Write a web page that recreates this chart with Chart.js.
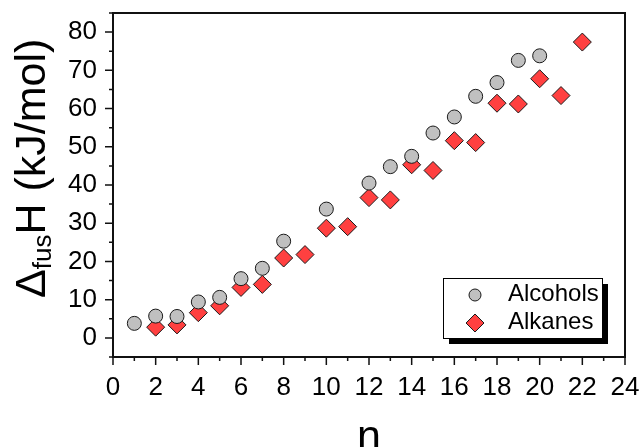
<!DOCTYPE html>
<html>
<head>
<meta charset="utf-8">
<script src="https://cdn.jsdelivr.net/npm/chart.js@4/dist/chart.umd.min.js"></script>
<style>
    html, body { margin: 0; padding: 0; background: #fff; }
</style>
</head>
<body>
<canvas id="fusionChart" width="643" height="447"></canvas>
<script>
var alcoholN = [1, 2, 3, 4, 5, 6, 7, 8, 10, 12, 13, 14, 15, 16, 17, 18, 19, 20];
var alcoholH = [3.8, 5.7, 5.6, 9.4, 10.6, 15.5, 18.2, 25.3, 33.7, 40.5, 44.8, 47.5, 53.6, 57.8, 63.2, 66.8, 72.6, 73.8];
var alkaneN = [2, 3, 4, 5, 6, 7, 8, 9, 10, 11, 12, 13, 14, 15, 16, 17, 18, 19, 20, 21, 22];
var alkaneH = [2.8, 3.4, 6.6, 8.4, 13.2, 14.0, 20.9, 21.8, 28.7, 29.1, 36.7, 36.1, 45.3, 43.8, 51.6, 51.1, 61.4, 61.2, 67.8, 63.4, 77.4];
var xTicks = [0, 2, 4, 6, 8, 10, 12, 14, 16, 18, 20, 22, 24];
var yTicks = [0, 10, 20, 30, 40, 50, 60, 70, 80];
var seriesNames = ['Alcohols', 'Alkanes'];

(function () {
    var FONT = '"Liberation Sans", Arial, sans-serif';

    function toPoints(xs, ys) {
        return xs.map(function (x, i) { return { x: x, y: ys[i] }; });
    }

    function marker(ctx, style, x, y, r) {
        ctx.beginPath();
        if (style === 'rectRot') {
            ctx.moveTo(x - r, y);
            ctx.lineTo(x, y - r);
            ctx.lineTo(x + r, y);
            ctx.lineTo(x, y + r);
            ctx.closePath();
        } else {
            ctx.arc(x, y, r, 0, Math.PI * 2);
        }
        ctx.fill();
        ctx.stroke();
    }

    // the scales get a fixed size, no extra label padding
    function fixSize(w, h) {
        return function (s) {
            if (w) { s.width = w; }
            if (h) { s.height = h; }
            s.paddingTop = 0;
            s.paddingBottom = 0;
            s.paddingLeft = 0;
            s.paddingRight = 0;
        };
    }

    // frame, minor/major tick marks and the rotated y title with subscript
    var framePlugin = {
        id: 'frame',
        afterDraw: function (chart) {
            var ctx = chart.ctx;
            var a = chart.chartArea;
            var xs = chart.scales.x, ys = chart.scales.y;
            ctx.save();
            ctx.strokeStyle = '#111';
            ctx.lineWidth = 2;
            ctx.strokeRect(a.left, a.top, a.right - a.left, a.bottom - a.top);

            ctx.lineWidth = 1.5;
            ctx.beginPath();
            for (var n = 0; n <= 24; n++) {
                var px = xs.getPixelForValue(n);
                var len = n % 2 === 0 ? 8 : 4;
                ctx.moveTo(px, a.bottom);
                ctx.lineTo(px, a.bottom + len);
            }
            for (var v = -5; v <= 85; v += 5) {
                var py = ys.getPixelForValue(v);
                var l2 = v % 10 === 0 ? 8 : 4;
                ctx.moveTo(a.left, py);
                ctx.lineTo(a.left - l2, py);
            }
            ctx.stroke();

            // y axis title: Δ_fus H (kJ/mol)
            ctx.translate(45, 298);
            ctx.rotate(-Math.PI / 2);
            ctx.fillStyle = '#000';
            ctx.textBaseline = 'alphabetic';
            ctx.textAlign = 'left';
            ctx.font = '43px ' + FONT;
            var pos = 0;
            ctx.fillText('\u0394', pos, 0);
            pos += ctx.measureText('\u0394').width;
            ctx.font = '26px ' + FONT;
            ctx.fillText('fus', pos, 6);
            pos += ctx.measureText('fus').width;
            ctx.font = '43px ' + FONT;
            ctx.fillText('H (kJ/mol)', pos, 0);
            ctx.restore();
        }
    };

    // boxed legend with drop shadow inside the plot
    var legendPlugin = {
        id: 'boxLegend',
        afterDraw: function (chart) {
            var ctx = chart.ctx;
            var bx = 443, by = 278, bw = 159, bh = 60;
            ctx.save();
            ctx.fillStyle = '#000';
            ctx.fillRect(bx + 6, by + 6, bw, bh);
            ctx.fillStyle = '#fff';
            ctx.fillRect(bx, by, bw, bh);
            ctx.strokeStyle = '#000';
            ctx.lineWidth = 1;
            ctx.strokeRect(bx + 0.5, by + 0.5, bw, bh);

            var rows = [295, 323];
            var sizes = [6, 9];
            chart.data.datasets.forEach(function (ds, i) {
                ctx.fillStyle = ds.backgroundColor;
                ctx.strokeStyle = ds.borderColor;
                ctx.lineWidth = 1;
                marker(ctx, ds.pointStyle, 475, rows[i], sizes[i]);
                ctx.fillStyle = '#000';
                ctx.font = '24px ' + FONT;
                ctx.textBaseline = 'middle';
                ctx.fillText(ds.label, 508, rows[i] - 1);
            });
            ctx.restore();
        }
    };

    var canvas = document.getElementById('fusionChart');

    new Chart(canvas, {
        type: 'scatter',
        data: {
            datasets: [
                {
                    label: seriesNames[0],
                    data: toPoints(alcoholN, alcoholH),
                    pointStyle: 'circle',
                    pointRadius: 7,
                    pointHoverRadius: 7,
                    backgroundColor: '#c0c0c0',
                    borderColor: '#1a1a1a',
                    borderWidth: 1
                },
                {
                    label: seriesNames[1],
                    data: toPoints(alkaneN, alkaneH),
                    pointStyle: 'rectRot',
                    pointRadius: 9,
                    pointHoverRadius: 9,
                    backgroundColor: '#ff4040',
                    borderColor: '#1a1a1a',
                    borderWidth: 1
                }
            ]
        },
        options: {
            responsive: false,
            animation: false,
            devicePixelRatio: 1,
            layout: { padding: { top: 13, right: 18, left: 0, bottom: 0 } },
            plugins: {
                legend: { display: false },
                tooltip: { enabled: false }
            },
            scales: {
                x: {
                    type: 'linear',
                    min: 0,
                    max: 24,
                    afterBuildTicks: function (s) {
                        s.ticks = xTicks.map(function (v) { return { value: v }; });
                    },
                    afterFit: fixSize(0, 90),
                    grid: { display: false, drawTicks: false },
                    border: { display: false },
                    ticks: {
                        color: '#000',
                        padding: 15,
                        maxRotation: 0,
                        font: { family: FONT, size: 26 }
                    },
                    title: {
                        display: true,
                        text: 'n',
                        color: '#000',
                        padding: { top: 0, bottom: -13 },
                        font: { family: FONT, size: 43, lineHeight: 1 }
                    }
                },
                y: {
                    min: -5,
                    max: 85,
                    afterBuildTicks: function (s) {
                        s.ticks = yTicks.map(function (v) { return { value: v }; });
                    },
                    afterFit: fixSize(113, 0),
                    grid: { display: false, drawTicks: false },
                    border: { display: false },
                    ticks: {
                        color: '#000',
                        padding: 16,
                        font: { family: FONT, size: 26 }
                    }
                }
            }
        },
        plugins: [framePlugin, legendPlugin]
    });
})();
</script>
</body>
</html>
